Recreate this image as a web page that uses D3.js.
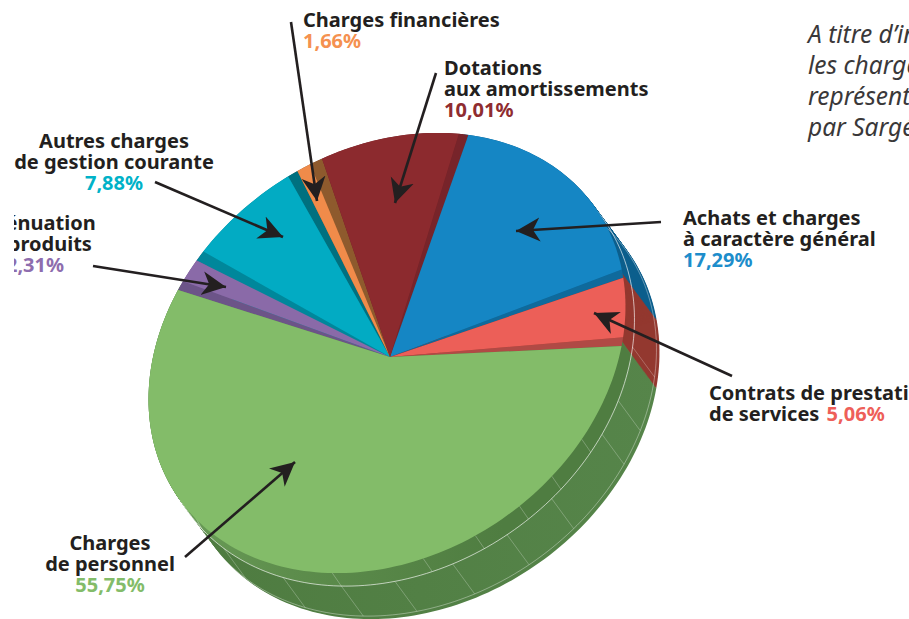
<!DOCTYPE html>
<html>
<head>
<meta charset="utf-8">
<script src="https://cdn.jsdelivr.net/npm/d3@7"></script>
<style>
  html, body { margin: 0; background: #fff; overflow: hidden; }
  text { font-family: "Noto Sans", sans-serif; font-weight: 700; font-size: 20px; fill: #231f20; }
  .note { font-weight: 400; font-style: italic; font-size: 24.5px; fill: #3a3839; }
</style>
</head>
<body>
<svg id="chart" width="909" height="619"></svg>
<script>
const categories = [
  "Achats et charges à caractère général",
  "Contrats de prestations de services",
  "Charges de personnel",
  "Atténuation de produits",
  "Autres charges de gestion courante",
  "Charges financières",
  "Dotations aux amortissements"
];
const shares = [17.29, 5.06, 55.75, 2.31, 7.88, 1.66, 10.01];
const shareLabels = ["17,29%", "5,06%", "55,75%", "2,31%", "7,88%", "1,66%", "10,01%"];
const faceColors = ["#1586c4", "#ec5f58", "#83bc69", "#8a6aa8", "#02abc3", "#f08b4a", "#8c2a2e"];
const wallColors = ["#0b5e8c", "#93382f", "url(#greenWall)", "#6c5488", "#00808f", "#8e5a2d", "#6f2226"];
const valueColors = ["#1d8dcb", "#ee5f59", "#83bc69", "#8e6dae", "#00b2c8", "#f59150", "#8f2c30"];
// strip of wall seen between a slice and the next one, and its opening in degrees
const stripColors = ["#0f6a9c", "#b04a45", "#6c5488", "#00879b", "#00707f", "#8e5a2d", "#77242a"];
const stripOpen = [2.3, 2.3, 2.4, 2.6, 2.4, 3.0, 2.4];
// angles of the thin lines on the green wall, degrees around the pie
const wallFacets = [126, 140, 149, 168, 181, 195, 209, 222, 237, 255];
const rimFacets = [154, 165, 175, 187, 200, 222];

const svg = d3.select("#chart");

// the pie is a circle seen through one affine view, the apex sits a bit off centre
const tilt = 34.6 * Math.PI / 180;
const major = 254;
const minor = 202;
const cx = 387;
const cy = 353;
const apex = [390, 357];
const flat = { x: 0, y: 0 };
const depth = { x: 34, y: 46 };
const lip = { x: 9, y: 13 };
const lower = { x: 31, y: 43 };
const spin = 47.5 * Math.PI / 180;

const project = (a, off) => {
  const x = Math.sin(a);
  const y = -Math.cos(a);
  return [
    cx + major * Math.cos(tilt) * x + minor * Math.sin(tilt) * y + off.x,
    cy - major * Math.sin(tilt) * x + minor * Math.cos(tilt) * y + off.y
  ];
};
const deg = d => d * Math.PI / 180;

const slices = d3.pie()
  .sort(null)
  .value(d => d)
  .startAngle(spin)
  .endAngle(spin + 2 * Math.PI)(shares);

const line = d3.line();

function rim(a0, a1, off) {
  const n = Math.max(2, Math.ceil((a1 - a0) / deg(1.5)));
  return d3.range(n + 1).map(k => project(a0 + (a1 - a0) * k / n, off));
}
function wedge(a0, a1, off) {
  return line([[apex[0] + off.x, apex[1] + off.y], ...rim(a0, a1, off)]) + "Z";
}

const defs = svg.append("defs");

const grad = defs.append("linearGradient")
  .attr("id", "greenWall")
  .attr("gradientUnits", "userSpaceOnUse")
  .attr("x1", 180).attr("y1", 0)
  .attr("x2", 660).attr("y2", 0);
grad.append("stop").attr("offset", 0).attr("stop-color", "#4e7b40");
grad.append("stop").attr("offset", 1).attr("stop-color", "#56854a");

const lipGrad = defs.append("linearGradient")
  .attr("id", "greenLip")
  .attr("gradientUnits", "userSpaceOnUse")
  .attr("x1", 150).attr("y1", 0)
  .attr("x2", 620).attr("y2", 0);
lipGrad.append("stop").attr("offset", 0).attr("stop-color", "#6da05a");
lipGrad.append("stop").attr("offset", 0.3).attr("stop-color", "#5d8d4c");
lipGrad.append("stop").attr("offset", 0.75).attr("stop-color", "#4f7d41");

// side walls: the slice repeated along the depth
const steps = d3.range(0, 1.001, 1 / 48);
const walls = svg.append("g");
slices.forEach((s, i) => {
  walls.append("g")
    .attr("fill", wallColors[i])
    .selectAll("path")
    .data(steps)
    .join("path")
    .attr("d", t => wedge(s.startAngle, s.endAngle, { x: depth.x * t, y: depth.y * t }));
});

// band just under the green top
walls.append("g")
  .attr("fill", "url(#greenLip)")
  .selectAll("path")
  .data(d3.range(0, 1.001, 1 / 14))
  .join("path")
  .attr("d", t => wedge(slices[2].startAngle, slices[2].endAngle, { x: lip.x * t, y: lip.y * t }));

// thin white lines on the wall
const lines = svg.append("g")
  .attr("fill", "none")
  .attr("stroke", "#fff");

[lip, lower].forEach((off, k) => {
  lines.append("g")
    .selectAll("path")
    .data(slices.slice(0, 3))
    .join("path")
    .attr("d", d => line(rim(d.startAngle, d.endAngle, off)))
    .attr("stroke-width", k ? 0.6 : 0.8)
    .attr("stroke-opacity", k ? 0.6 : 0.8);
});

lines.selectAll(".facet")
  .data(wallFacets)
  .join("line")
  .attr("class", "facet")
  .attr("x1", d => project(deg(d), lip)[0])
  .attr("y1", d => project(deg(d), lip)[1])
  .attr("x2", d => project(deg(d), lower)[0])
  .attr("y2", d => project(deg(d), lower)[1])
  .attr("stroke-width", 0.5)
  .attr("stroke-opacity", 0.5);

lines.selectAll(".rimfacet")
  .data(rimFacets)
  .join("line")
  .attr("class", "rimfacet")
  .attr("x1", d => project(deg(d), flat)[0])
  .attr("y1", d => project(deg(d), flat)[1])
  .attr("x2", d => project(deg(d), lip)[0])
  .attr("y2", d => project(deg(d), lip)[1])
  .attr("stroke-width", 0.5)
  .attr("stroke-opacity", 0.5);

// strips between the top faces
svg.append("g")
  .selectAll("path")
  .data(slices)
  .join("path")
  .attr("fill", (d, i) => stripColors[i])
  .attr("d", (d, i) => wedge(d.endAngle - deg(stripOpen[i] / 2), d.endAngle + deg(stripOpen[i] / 2), flat));

// top faces
svg.append("g")
  .selectAll("path")
  .data(slices)
  .join("path")
  .attr("fill", (d, i) => faceColors[i])
  .attr("d", (d, i) => wedge(
    d.startAngle + deg(stripOpen[(i + slices.length - 1) % slices.length] / 2),
    d.endAngle - deg(stripOpen[i] / 2),
    flat
  ));

// leaders
defs.append("marker")
  .attr("id", "head")
  .attr("viewBox", "-24 -13 26 26")
  .attr("refX", 0)
  .attr("refY", 0)
  .attr("markerUnits", "userSpaceOnUse")
  .attr("markerWidth", 26)
  .attr("markerHeight", 26)
  .attr("orient", "auto")
  .append("path")
  .attr("fill", "#231f20")
  .attr("d", "M0,0L-24,-12L-17,0L-24,12Z");

const leaders = [
  [291, 22, 317, 201],
  [436, 73, 395, 203],
  [155, 182, 283, 237],
  [93, 266, 226, 287],
  [661, 222, 516, 231],
  [732, 376, 594, 313],
  [185, 557, 295, 462]
];

svg.append("g")
  .selectAll("line")
  .data(leaders)
  .join("line")
  .attr("x1", d => d[0])
  .attr("y1", d => d[1])
  .attr("x2", d => d[2])
  .attr("y2", d => d[3])
  .attr("stroke", "#231f20")
  .attr("stroke-width", 2.6)
  .attr("marker-end", "url(#head)");

// labels
defs.append("clipPath")
  .attr("id", "leftcut")
  .append("rect")
  .attr("x", 14)
  .attr("y", 0)
  .attr("width", 895)
  .attr("height", 619);

function label(x, y, anchor, rows, i) {
  const g = svg.append("g")
    .attr("clip-path", "url(#leftcut)")
    .attr("text-anchor", anchor);
  rows.forEach((row, k) => {
    g.append("text").attr("x", x).attr("y", y + k * 21).text(row);
  });
  g.append("text")
    .attr("x", x)
    .attr("y", y + rows.length * 21)
    .style("fill", valueColors[i])
    .text(shareLabels[i]);
}

label(303, 27, "start", ["Charges financières"], 5);
label(444, 75, "start", ["Dotations", "aux amortissements"], 6);
label(114, 148, "middle", ["Autres charges", "de gestion courante"], 4);
label(35, 230, "middle", ["Atténuation", "de produits"], 3);
label(683, 225, "start", ["Achats et charges", "à caractère général"], 0);
label(110, 550, "middle", ["Charges", "de personnel"], 2);

const contrats = svg.append("g");
contrats.append("text").attr("x", 709).attr("y", 400).text("Contrats de prestations");
const contratsRow = contrats.append("text").attr("x", 709).attr("y", 421);
contratsRow.append("tspan").text("de services ");
contratsRow.append("tspan").attr("dx", 2).style("fill", valueColors[1]).text(shareLabels[1]);

// side note, runs off the page
svg.append("g")
  .selectAll("text")
  .data(["A titre d’information,", "les charges", "représentent", "par Sargé"])
  .join("text")
  .attr("class", "note")
  .attr("x", 808)
  .attr("y", (d, i) => 43 + i * 31)
  .text(d => d);
</script>
</body>
</html>
